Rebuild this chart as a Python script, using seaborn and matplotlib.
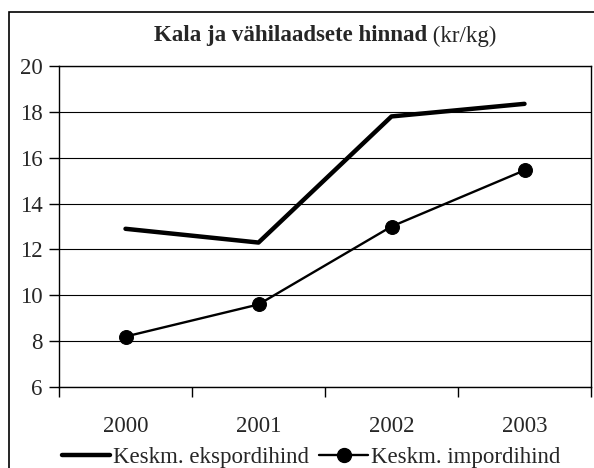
import matplotlib
matplotlib.use("Agg")
import matplotlib.pyplot as plt
import matplotlib.patches as mpatches
from matplotlib.lines import Line2D
from matplotlib.ticker import FixedLocator
import pandas as pd
import seaborn as sns

years = ["2000", "2001", "2002", "2003"]
export_price = [12.9, 12.3, 17.8, 18.35]
import_price = [8.2, 9.6, 13.0, 15.45]
export_label = "Keskm. ekspordihind"
import_label = "Keskm. impordihind"
title_bold = "Kala ja vähilaadsete hinnad"
title_unit = " (kr/kg)"

df = pd.DataFrame({"aasta": years, "eksport": export_price, "import": import_price})

sns.set_style("white")
plt.rcParams["font.family"] = ["Liberation Serif", "DejaVu Serif"]
FS = 16.5
plt.rcParams["font.size"] = FS

fig = plt.figure(figsize=(5.94, 4.68), dpi=100)
W, H = 594, 468
ax = fig.add_axes([59 / W, 1 - 387 / H, (591 - 59) / W, (387 - 66) / H])

sns.lineplot(data=df, x="aasta", y="eksport", ax=ax, color="black", lw=3.2,
             sort=False)
sns.lineplot(data=df, x="aasta", y="import", ax=ax, color="black", lw=1.7,
             marker="o", markersize=10, markeredgecolor="black", sort=False)

ax.set_xlim(-0.5, 3.5)
ax.set_ylim(6, 20)
ax.set_yticks(range(6, 21, 2))
ax.set_xlabel("")
ax.set_ylabel("")
ax.grid(axis="y", color="black", lw=0.8)
ax.set_axisbelow(True)
for s in ax.spines.values():
    s.set_color("black")
    s.set_linewidth(1.0)
    s.set_visible(True)

ax.xaxis.set_minor_locator(FixedLocator([-0.5, 0.5, 1.5, 2.5, 3.5]))
ax.tick_params(axis="x", which="major", length=0, pad=21, labelsize=FS)
ax.tick_params(axis="x", which="minor", length=7, width=1, color="black",
               direction="out", bottom=True)
ax.tick_params(axis="y", length=7, width=1, color="black", direction="out",
               left=True, pad=5, labelsize=FS)

handles = [
    Line2D([], [], color="black", lw=3.2),
    Line2D([], [], color="black", lw=1.7, marker="o", markersize=10),
]
fig.legend(handles, [export_label, import_label], loc="center",
           bbox_to_anchor=(311 / W, 1 - 457 / H), ncol=2, frameon=False,
           fontsize=FS, handlelength=2.1, handletextpad=0.15,
           columnspacing=0.45, borderaxespad=0)

# outer chart frame
fig.patches.append(mpatches.Rectangle((9 / W, -0.05), 1.0, 1 - 12 / H + 0.05,
                                      transform=fig.transFigure, fill=False,
                                      edgecolor="black", lw=1.2))

# title: bold part + regular unit, centred over plot area
ty = 1 - 36 / H
t1 = fig.text(0, ty, title_bold, fontweight="bold", fontsize=FS, va="center")
t2 = fig.text(0, ty, title_unit, fontsize=FS, va="center")
fig.canvas.draw()
r = fig.canvas.get_renderer()
w1 = t1.get_window_extent(r).width
w2 = t2.get_window_extent(r).width
x0 = 325 - (w1 + w2) / 2
t1.set_x(x0 / W)
t2.set_x((x0 + w1) / W)

fig.savefig("out.png", dpi=100)
